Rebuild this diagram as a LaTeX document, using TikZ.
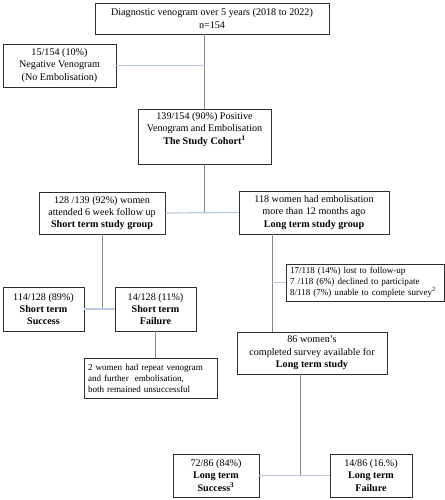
\documentclass[tikz,border=0pt]{standalone}
\usepackage{fontspec}
\setmainfont{Liberation Serif}
\usetikzlibrary{calc}

\definecolor{boxline}{RGB}{45,45,45}
\definecolor{vline}{RGB}{135,135,135}
\definecolor{hline}{RGB}{185,201,224}

\tikzset{every picture/.style={line width=0.75pt}}
\tikzset{
	flowbox/.style={draw=boxline, line width=0.6pt, align=center, inner sep=0pt, font=\fontsize{7.6}{9.2}\selectfont},
	notebox/.style={flowbox, align=left, inner xsep=3pt, font=\fontsize{6.8}{8.2}\selectfont},
	downline/.style={draw=vline, line width=0.7pt},
	sideline/.style={draw=hline, line width=0.9pt}
}

\begin{document}
\begin{tikzpicture}[x=0.75pt,y=0.75pt,yscale=-1,xscale=1]
	\useasboundingbox (0,0) rectangle (445,500);

	% Text Node
	\node [flowbox, minimum width=175.5pt, minimum height=23.25pt] (top) at (212,18.5) {Diagnostic venogram over 5 years (2018 to 2022)\\n=154};
	% Text Node
	\node [flowbox, minimum width=84.75pt, minimum height=32.25pt] (neg) at (59.5,65.5) {15/154 (10\%)\\Negative Venogram\\(No Embolisation)};
	% Text Node
	\node [flowbox, minimum width=99.75pt, minimum height=41.25pt] (cohort) at (204.5,136.5) {139/154 (90\%) Positive\\Venogram and Embolisation\\\textbf{The Study Cohort\textsuperscript{1}}\\[3pt]};
	% Text Node
	\node [flowbox, minimum width=94.5pt, minimum height=31.5pt] (short) at (102,213) {128 /139 (92\%) women\\attended 6 week follow up\\\textbf{Short term study group}};
	% Text Node
	\node [flowbox, minimum width=112.5pt, minimum height=32.25pt] (long) at (314,212.5) {118 women had embolisation\\more than 12 months ago\\\textbf{Long term study group}};
	% Text Node
	\node [flowbox, minimum width=60.75pt, minimum height=33pt] (stsucc) at (43.5,309) {114/128 (89\%)\\\textbf{Short term}\\\textbf{Success}};
	% Text Node
	\node [flowbox, minimum width=60.75pt, minimum height=33pt] (stfail) at (155.5,309) {14/128 (11\%)\\\textbf{Short term}\\\textbf{Failure}};
	% Text Node
	\node [notebox, text width=93.75pt, minimum height=30pt] (repeat) at (150.5,378) {2 women had repeat venogram\\and further\ \ embolisation,\\both remained unsuccessful};
	% Text Node
	\node [notebox, text width=112.5pt, minimum height=27.75pt] (excl) at (365,282.5) {17/118 (14\%) lost to follow-up\\7 /118 (6\%) declined to participate\\8/118 (7\%) unable to complete survey\textsuperscript{2}};
	% Text Node
	\node [flowbox, minimum width=112.5pt, minimum height=31.5pt] (survey) at (312,353) {86 women's\\completed survey available for\\\textbf{Long term study}};
	% Text Node
	\node [flowbox, minimum width=64.5pt, minimum height=32.25pt] (ltsucc) at (216,475.5) {72/86 (84\%)\\\textbf{Long term}\\\textbf{Success\textsuperscript{3}}};
	% Text Node
	\node [flowbox, minimum width=61.5pt, minimum height=32.25pt] (ltfail) at (371,475.5) {14/86 (16.\%)\\\textbf{Long term}\\\textbf{Failure}};

	% drop points of the spines
	\coordinate (ltdrop) at ([xshift=-31.5pt]long.south);
	\coordinate (svdrop) at ([xshift=-9pt]survey.south);

	%Straight Lines
	\draw [downline] (top.south -| cohort.north) -- (cohort.north);
	\draw [sideline] (neg.east) -- (neg.east -| cohort.north);
	%Straight Lines
	\draw [downline] (cohort.south) -- (cohort.south |- short.east);
	\draw [sideline] (short.east) -- (long.west);
	%Straight Lines
	\draw [downline] (short.south) -- (short.south |- stsucc.east);
	\draw [sideline] (stsucc.east) -- (stfail.west);
	\draw [downline] (stfail.south) -- (stfail.south |- repeat.north);
	%Straight Lines
	\draw [downline] (ltdrop) -- (ltdrop |- survey.north);
	\draw [sideline] (ltdrop |- excl.west) -- (excl.west);
	%Straight Lines
	\draw [downline] (svdrop) -- (svdrop |- ltsucc.east);
	\draw [sideline] (ltsucc.east) -- (ltfail.west);

\end{tikzpicture}
\end{document}
